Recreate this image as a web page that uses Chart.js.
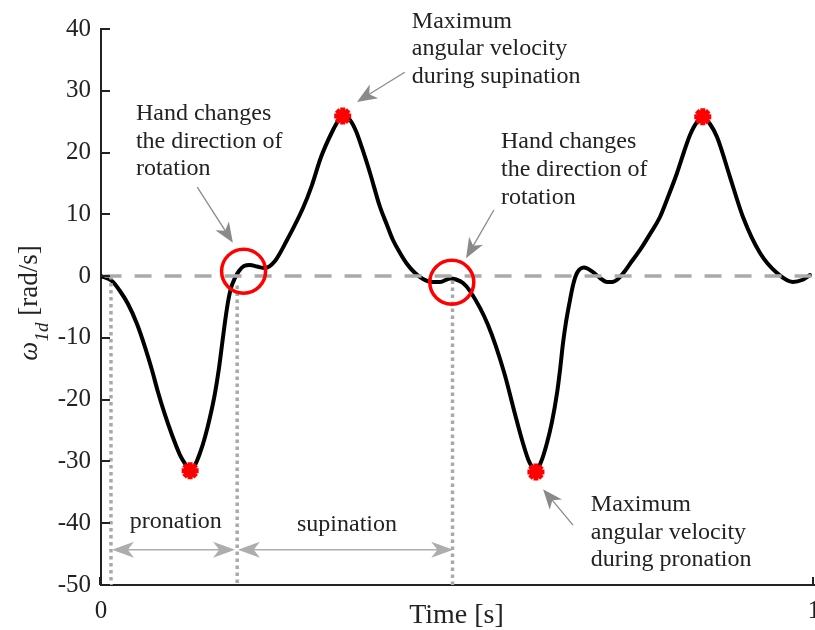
<!DOCTYPE html>
<html>
<head>
<meta charset="utf-8">
<script src="https://cdn.jsdelivr.net/npm/chart.js@4"></script>
<style>
  html, body { margin: 0; padding: 0; background: #fff; }
  #wrap { width: 815px; height: 630px; }
</style>
</head>
<body>
<div id="wrap"><canvas id="myChart" width="815" height="630"></canvas></div>
<script>
// angular velocity trace
const timeS = [0, 0.0154, 0.0266, 0.0379, 0.0505, 0.0617, 0.0715, 0.0799, 0.0898, 0.0996,
  0.1108, 0.1192, 0.1248, 0.1318, 0.1388, 0.1459, 0.1529, 0.1599, 0.1655, 0.1697, 0.1739,
  0.1781, 0.1823, 0.1879, 0.1935, 0.2006, 0.2090, 0.2188, 0.2300,
  0.2440, 0.2609, 0.2833, 0.2959, 0.3086, 0.3254, 0.3324, 0.3394,
  0.3492, 0.3576, 0.3661, 0.3773, 0.3913, 0.4011, 0.4095, 0.4194, 0.4292, 0.4404, 0.4516,
  0.4642, 0.4755, 0.4895, 0.4979, 0.5077, 0.5175, 0.5428, 0.5652, 0.5806, 0.5905, 0.5989,
  0.6045, 0.6101, 0.6171, 0.6255, 0.6325, 0.6396, 0.6438, 0.6480, 0.6522, 0.6578, 0.6620,
  0.6676, 0.6774, 0.6900, 0.6999, 0.7097, 0.7167, 0.7251, 0.7349, 0.7447, 0.7560, 0.7700,
  0.7840, 0.7952, 0.8079, 0.8176, 0.8261, 0.8359, 0.8443, 0.8541, 0.8640, 0.8822, 0.9004,
  0.9243, 0.9481, 0.9705, 0.9832, 0.9944];
const omega = [0.02, -0.79, -2.41, -4.52, -7.75, -11.48, -15.2, -18.76, -22.48, -25.72,
  -28.96, -30.58, -31.39, -30.58, -28.64, -26.05, -22.81, -18.93, -14.88, -11.16, -7.43,
  -4.19, -1.93, -0.31, 0.83, 1.63, 1.8, 1.55, 1.31,
  2.44, 5.84, 11.02, 14.74, 19.28, 23.65, 25.1, 25.91,
  25.27, 23.49, 20.74, 16.69, 11.19, 8.28, 5.84, 3.74, 1.96, 0.5, -0.47,
  -0.95, -0.95, -0.39, -0.55, -1.12, -2.41, -7.91, -15.52, -22.32, -26.53, -29.6,
  -30.9, -31.54, -30.1, -27.0, -23.6, -18.93, -15.2, -10.83, -7.43, -3.87, -1.47,
  0.5, 1.39, 0.66, -0.31, -0.95, -0.95, -0.47, 0.83, 2.44, 4.23, 6.81,
  9.57, 12.8, 16.69, 20.09, 22.84, 24.94, 25.75, 24.62, 22.52, 16.04, 9.57,
  3.74, 0.5, -0.95, -0.63, 0.18];

// extrema (red stars) and direction changes (red circles)
const peakT = [0.125, 0.339, 0.610, 0.844];
const peakW = [-31.5, 25.9, -31.7, 25.8];
const turnT = [0.200, 0.492];
const turnW = [0.8, -1.0];

// dotted phase boundaries
const guideT = [0.014, 0.191, 0.493];
const guideTop = [0, -1.5, -0.7];

const xMin = 0, xMax = 1;
const yMin = -50, yMax = 40, yStep = 10;

const serif = '"Liberation Serif", "Times New Roman", serif';
const ink = '#222';

// annotation texts / arrows in data units
const notes = [
  { t: 0.049, w: 25.3, lines: ['Hand changes', 'the direction of', 'rotation'] },
  { t: 0.436, w: 40.2, lines: ['Maximum', 'angular velocity', 'during supination'] },
  { t: 0.561, w: 20.7, lines: ['Hand changes', 'the direction of', 'rotation'] },
  { t: 0.687, w: -38.0, lines: ['Maximum', 'angular velocity', 'during pronation'] },
];
const pointers = [
  [0.135, 14.4, 0.185, 5.4],
  [0.426, 33.0, 0.359, 28.2],
  [0.551, 10.7, 0.512, 2.9],
  [0.662, -40.3, 0.620, -34.5],
];
const spans = [
  { from: 0.0154, to: 0.188, w: -44.3, label: 'pronation', lt: 0.105, lw: -40.8 },
  { from: 0.192, to: 0.494, w: -44.3, label: 'supination', lt: 0.345, lw: -41.3 },
];

function pts(xs, ys) {
  return xs.map((x, i) => ({ x: x, y: ys[i] }));
}

function arrowHead(ctx, x1, y1, x2, y2, len, half, color) {
  const a = Math.atan2(y2 - y1, x2 - x1);
  const c = Math.cos(a), s = Math.sin(a);
  const p = (lx, ly) => [x2 + lx * c - ly * s, y2 + lx * s + ly * c];
  ctx.fillStyle = color;
  ctx.beginPath();
  ctx.moveTo(x2, y2);
  ctx.lineTo(...p(-len, -half));
  ctx.lineTo(...p(-len * 0.72, 0));
  ctx.lineTo(...p(-len, half));
  ctx.closePath();
  ctx.fill();
}

function line(ctx, x1, y1, x2, y2, color, lw) {
  ctx.strokeStyle = color;
  ctx.lineWidth = lw;
  ctx.beginPath();
  ctx.moveTo(x1, y1);
  ctx.lineTo(x2, y2);
  ctx.stroke();
}

const annotate = {
  id: 'annotate',
  afterDatasetsDraw(chart) {
    const { ctx, chartArea, scales: { x, y } } = chart;
    ctx.save();

    // text blocks
    ctx.font = '24px ' + serif;
    ctx.fillStyle = ink;
    ctx.textAlign = 'left';
    ctx.textBaseline = 'alphabetic';
    notes.forEach((n) => {
      const px = x.getPixelForValue(n.t);
      const py = y.getPixelForValue(n.w);
      n.lines.forEach((s, i) => ctx.fillText(s, px, py + i * 27.7));
    });

    // pointer arrows
    pointers.forEach(([t1, w1, t2, w2]) => {
      const x1 = x.getPixelForValue(t1), y1 = y.getPixelForValue(w1);
      const x2 = x.getPixelForValue(t2), y2 = y.getPixelForValue(w2);
      const a = Math.atan2(y2 - y1, x2 - x1);
      line(ctx, x1, y1, x2 - 12 * Math.cos(a), y2 - 12 * Math.sin(a), '#8a8a8a', 1.3);
      arrowHead(ctx, x1, y1, x2, y2, 20, 8, '#8a8a8a');
    });

    // pronation / supination spans
    spans.forEach((sp) => {
      const xa = x.getPixelForValue(sp.from);
      const xb = x.getPixelForValue(sp.to);
      const py = y.getPixelForValue(sp.w);
      line(ctx, xa + 12, py, xb - 12, py, '#adadad', 1.5);
      arrowHead(ctx, xb, py, xa, py, 22, 8, '#adadad');
      arrowHead(ctx, xa, py, xb, py, 22, 8, '#adadad');
      ctx.fillStyle = ink;
      ctx.textAlign = 'center';
      ctx.fillText(sp.label, x.getPixelForValue(sp.lt), y.getPixelForValue(sp.lw));
    });

    ctx.restore();
  },
  afterDraw(chart) {
    const { ctx, chartArea, scales: { x, y } } = chart;
    ctx.save();

    // inward tick marks
    y.ticks.forEach((tk) => {
      const py = Math.round(y.getPixelForValue(tk.value));
      line(ctx, chartArea.left, py, chartArea.left + 9, py, '#222', 2);
    });
    x.ticks.forEach((tk) => {
      const px = Math.round(x.getPixelForValue(tk.value)) - 1;
      line(ctx, px, chartArea.bottom, px, chartArea.bottom - 8, '#222', 2);
    });

    ctx.fillStyle = ink;

    // x axis title
    ctx.font = '28px ' + serif;
    ctx.textAlign = 'center';
    ctx.textBaseline = 'alphabetic';
    ctx.fillText('Time [s]', (chartArea.left + chartArea.right) / 2 - 1, 623);

    // y axis title: italic omega with subscript 1d
    const main = '27px ' + serif;
    const mainIt = 'italic 27px ' + serif;
    const sub = 'italic 19px ' + serif;
    ctx.font = mainIt; const w1 = ctx.measureText('\u03C9').width;
    ctx.font = sub; const w2 = ctx.measureText('1d').width;
    ctx.font = main; const w3 = ctx.measureText(' [rad/s]').width;
    const total = w1 + w2 + w3;
    const cy = (chartArea.top + chartArea.bottom) / 2 - 4;
    ctx.translate(37, cy + total / 2);
    ctx.rotate(-Math.PI / 2);
    ctx.textAlign = 'left';
    ctx.font = mainIt; ctx.fillText('\u03C9', 0, 0);
    ctx.font = sub; ctx.fillText('1d', w1, 11);
    ctx.font = main; ctx.fillText(' [rad/s]', w1 + w2, 0);
    ctx.restore();
  },
};

const guideSets = guideT.map((t, i) => ({
  data: [{ x: t, y: guideTop[i] }, { x: t, y: yMin }],
  borderColor: '#a9a9a9',
  borderWidth: 3.5,
  borderDash: [3.5, 3.5],
  pointRadius: 0,
  order: 3,
}));

const ctx = document.getElementById('myChart').getContext('2d');
const myChart = new Chart(ctx, {
  type: 'line',
  data: {
    datasets: [
      {
        data: pts(turnT, turnW),
        showLine: false,
        pointStyle: 'circle',
        pointRadius: 22,
        pointBorderWidth: 3.5,
        pointBorderColor: '#ff0000',
        pointBackgroundColor: 'rgba(0,0,0,0)',
        order: 0,
      },
      {
        data: pts(peakT, peakW),
        showLine: false,
        pointStyle: 'star',
        pointRadius: 8.5,
        pointBorderWidth: 5,
        pointBorderColor: '#ff0000',
        pointBackgroundColor: '#ff0000',
        order: 1,
      },
      {
        data: [{ x: 0.005, y: 0 }, { x: xMax, y: 0 }],
        borderColor: '#aaaaaa',
        borderWidth: 3.5,
        borderDash: [17, 13],
        pointRadius: 0,
        order: 2,
      },
      ...guideSets,
      {
        data: pts(timeS, omega),
        borderColor: '#000',
        borderWidth: 4,
        cubicInterpolationMode: 'monotone',
        borderCapStyle: 'round',
        borderJoinStyle: 'round',
        pointRadius: 0,
        order: 4,
      },
    ],
  },
  options: {
    responsive: false,
    animation: false,
    events: [],
    layout: { padding: { top: 29, right: 1, bottom: 0, left: 0 }, autoPadding: false },
    plugins: {
      legend: { display: false },
      tooltip: { enabled: false },
    },
    scales: {
      x: {
        type: 'linear',
        min: xMin,
        max: xMax,
        grid: { drawOnChartArea: false, drawTicks: false },
        border: { color: '#222', width: 2 },
        ticks: {
          stepSize: 1,
          padding: 11,
          maxRotation: 0,
          color: ink,
          font: { family: serif, size: 25 },
        },
        afterFit(scale) {
          scale.height = 45;
          scale.paddingLeft = 0;
          scale.paddingRight = 0;
        },
      },
      y: {
        min: yMin,
        max: yMax,
        grid: { drawOnChartArea: false, drawTicks: false },
        border: { color: '#222', width: 2 },
        ticks: {
          stepSize: yStep,
          padding: 10,
          color: ink,
          font: { family: serif, size: 25 },
        },
        afterFit(scale) {
          scale.width = 101;
        },
      },
    },
  },
  plugins: [annotate],
});
</script>
</body>
</html>
